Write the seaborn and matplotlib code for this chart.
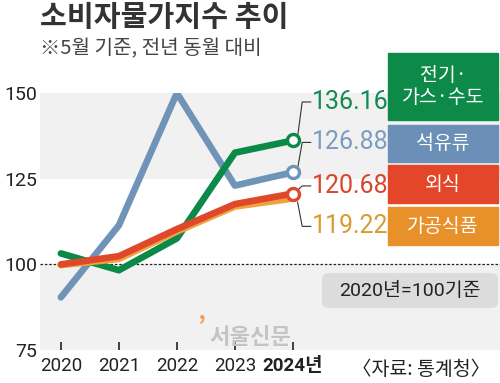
import pandas as pd
import matplotlib.pyplot as plt
import seaborn as sns
from matplotlib.patches import FancyBboxPatch

years = [2020, 2021, 2022, 2023, 2024]
series_names = ["석유류", "전기·가스·수도", "가공식품", "외식"]
oil = [90.4, 111.4, 150.0, 123.0, 126.88]
utility = [103.2, 98.3, 107.6, 132.6, 136.16]
processed = [99.8, 101.6, 109.6, 116.9, 119.22]
dining = [100.0, 102.4, 110.3, 117.6, 120.68]
colors = {"석유류": "#7094b8", "전기·가스·수도": "#0b8a47",
          "가공식품": "#eea43a", "외식": "#e0482b"}
text_colors = {"석유류": "#7b9cc0", "전기·가스·수도": "#138a50",
               "가공식품": "#d99c2e", "외식": "#d8442c"}
box_colors = {"석유류": "#6b8fb7", "전기·가스·수도": "#0d8a48",
              "가공식품": "#e8902a", "외식": "#e4462a"}
box_labels = {"석유류": "석유류", "전기·가스·수도": "전기·\n가스·수도",
              "가공식품": "가공식품", "외식": "외식"}
yticks = [75, 100, 125, 150]

df = pd.DataFrame({
    "year": years * 4,
    "value": oil + utility + processed + dining,
    "item": sum([[n] * 5 for n in series_names], []),
})

KR = ["Noto Sans CJK KR", "DejaVu Sans"]
NUM = ["Liberation Sans Narrow", "Roboto", "Noto Sans CJK KR"]

sns.set_theme(style="white")
plt.rcParams["font.family"] = KR

fig = plt.figure(figsize=(5, 3.83), dpi=100)
ax = fig.add_axes([0.08, 0.086, 0.92, 0.671])
ax.set_xlim(2019.64, 2027.57)
ax.set_ylim(75, 150)

# background bands
ax.axhspan(125, 150, color="#f1f1f1", zorder=0, lw=0)
ax.axhspan(75, 100, color="#f1f1f1", zorder=0, lw=0)
ax.axhline(100, color="#222222", lw=0.9, ls=(0, (2, 1.5)), zorder=1)

for name in series_names:
    sns.lineplot(data=df[df["item"] == name], x="year", y="value", ax=ax,
                 color=colors[name], lw=4.8, solid_capstyle="round",
                 solid_joinstyle="round", zorder=3)

# end markers
for name, vals in [("전기·가스·수도", utility), ("석유류", oil), ("외식", dining)]:
    ax.scatter([years[-1]], [vals[-1]], s=75, facecolor="white",
               edgecolor=colors[name], linewidth=2.4, zorder=5)

# value labels with leader lines
label_y = {"전기·가스·수도": 147.4, "석유류": 135.6, "외식": 122.9, "가공식품": 111.1}
all_vals = {"석유류": oil, "전기·가스·수도": utility, "가공식품": processed, "외식": dining}
for name in series_names:
    v = all_vals[name][-1]
    ly = label_y[name]
    start_y = v + (1.0 if ly > v else -1.0)
    ax.plot([2024.08, 2024.16, 2024.31], [start_y, ly, ly], color="#333333",
            lw=0.8, zorder=4)
    ax.text(2024.33, ly, f"{v:.2f}", color=text_colors[name], fontsize=18,
            family=NUM, va="center", ha="left", zorder=6)

# category boxes
boxes = {"전기·가스·수도": (0.687, 0.175), "석유류": (0.577, 0.097),
         "외식": (0.470, 0.099), "가공식품": (0.360, 0.099)}
for name, (y0, h) in boxes.items():
    fig.patches.append(plt.Rectangle((0.776, y0), 0.22, h, transform=fig.transFigure,
                                     color=box_colors[name], zorder=2))
    fig.text(0.886, y0 + h / 2, box_labels[name], color="white", fontsize=14,
             ha="center", va="center", linespacing=1.1)

# base note box
note = FancyBboxPatch((0.644, 0.196), 0.352, 0.091, boxstyle="round,pad=0,rounding_size=0.015",
                      transform=fig.transFigure, facecolor="#dcdcdc", edgecolor="none")
fig.patches.append(note)
fig.text(0.82, 0.241, "2020년=100기준", fontsize=14, ha="center", va="center",
         color="#222222", family=NUM[1:])

# watermark
fig.text(0.394, 0.145, "’", color="#f0a050", fontsize=18, fontweight="bold", va="center")
fig.text(0.418, 0.12, "서울신문", color="#c4c4c4", fontsize=16, fontweight="bold", va="center")

# axes styling
for s in ax.spines.values():
    s.set_visible(False)
ax.set_xlabel("")
ax.set_ylabel("")
ax.set_yticks(yticks)
ax.set_yticklabels([str(t) for t in yticks], family=NUM, fontsize=14, color="#222222")
ax.set_xticks(years)
ax.set_xticklabels([str(y) for y in years[:-1]] + ["2024년"], family=NUM,
                   fontsize=13.5, color="#222222")
ax.get_xticklabels()[-1].set_fontweight("bold")
ax.tick_params(axis="x", direction="in", length=6, width=1.2, color="#222222", pad=5, bottom=True)
ax.tick_params(axis="y", length=0, pad=2)
fig.text(0.705, 0.034, "〈자료: 통계청〉", fontsize=14, color="#222222", va="center")

fig.text(0.08, 0.955, "소비자물가지수 추이", fontsize=21, fontweight="bold",
         color="#333333", va="center")
fig.text(0.08, 0.872, "※5월 기준, 전년 동월 대비", fontsize=14.5, color="#444444", va="center")

fig.savefig("out.png", dpi=100)
